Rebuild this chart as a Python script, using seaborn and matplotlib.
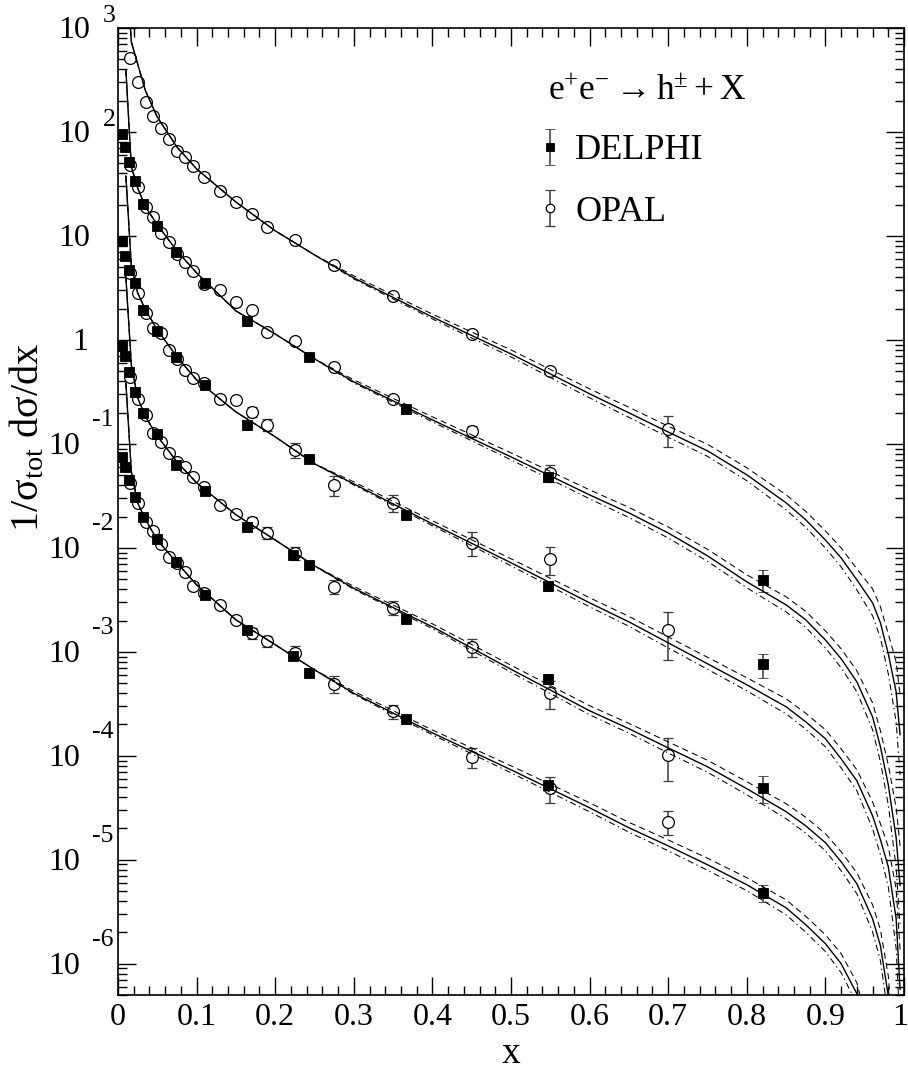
import numpy as np
import matplotlib
matplotlib.use("Agg")
import matplotlib.pyplot as plt
import matplotlib.ticker as mticker
import matplotlib.transforms as mtransforms
import seaborn as sns

# ---------------- theory curves ----------------
X_THEORY = [0.010, 0.017, 0.025, 0.035, 0.05, 0.075, 0.10, 0.15, 0.20, 0.25, 0.30, 0.40,
            0.50, 0.60, 0.65, 0.70, 0.75, 0.80, 0.85, 0.875, 0.90, 0.92, 0.94, 0.96, 0.97,
            0.98, 0.99, 0.995]

S1_SOLID = [4510, 733, 451, 248, 139, 71.7, 44.1, 21.2, 11.2, 6.57, 3.95, 1.66, 0.733,
            0.303, 0.199, 0.130, 0.0857, 0.0504, 0.0271, 0.0186, 0.0119, 0.00801, 0.00492,
            0.00296, 0.00190, 0.000957, 0.000412, 0.000159]
S1_DASH = [4510, 733, 451, 248, 139, 71.7, 44.1, 21.2, 11.2, 6.57, 4.13, 1.77, 0.801,
           0.338, 0.225, 0.148, 0.0990, 0.0589, 0.0324, 0.02245, 0.01453, 0.0100, 0.00628,
           0.00403, 0.00271, 0.00149, 0.000801, 0.000385]
S1_DDOT = [4510, 733, 451, 248, 139, 71.7, 44.1, 21.2, 11.2, 6.57, 3.86, 1.59, 0.686,
           0.277, 0.180, 0.116, 0.0758, 0.0442, 0.0232, 0.01575, 0.00997, 0.00656, 0.00394,
           0.00222, 0.00136, 0.000614, 0.000212, 0.0000655]

S2_SOLID = [394, 46.1, 28.9, 19.0, 12.8, 7.18, 4.41, 1.90, 1.14, 0.657, 0.395, 0.170, 0.0750,
            0.0323, 0.0217, 0.0139, 0.00838, 0.00471, 0.00283, 0.00203, 0.00130, 0.000857,
            0.000515, 0.000237, 0.000122, 5.26e-5, 1.63e-5, 5.62e-6]
S2_DASH = [394, 46.1, 28.9, 19.0, 12.8, 7.18, 4.41, 1.90, 1.14, 0.657, 0.413, 0.182, 0.0820,
           0.0361, 0.0245, 0.01587, 0.00968, 0.00550, 0.00338, 0.00245, 0.00159, 0.00107,
           0.000657, 0.000323, 0.000174, 8.19e-5, 3.17e-5, 1.36e-5]
S2_DDOT = [394, 46.1, 28.9, 19.0, 12.8, 7.18, 4.41, 1.90, 1.14, 0.657, 0.386, 0.163, 0.0702,
           0.0296, 0.0196, 0.01244, 0.00742, 0.00413, 0.00242, 0.00172, 0.00109, 0.000702,
           0.000413, 0.000178, 8.75e-5, 3.38e-5, 8.39e-6, 2.32e-6]

S3_SOLID = [37.8, 5.15, 2.83, 1.94, 1.25, 0.687, 0.412, 0.203, 0.117, 0.0643, 0.0412, 0.0170,
            0.00718, 0.00296, 0.00194, 0.00122, 0.000767, 0.000482, 0.000296, 0.000212,
            0.000146, 9.35e-5, 5.75e-5, 2.65e-5, 1.56e-5, 8.57e-6, 2.71e-6, 5.62e-7]
S3_DASH = [37.8, 5.15, 2.83, 1.94, 1.25, 0.687, 0.412, 0.203, 0.117, 0.0643, 0.0431, 0.0182,
           0.00785, 0.00331, 0.00219, 0.00139, 0.000886, 0.000563, 0.000353, 0.000256,
           0.000178, 0.0001167, 7.34e-5, 3.61e-5, 2.22e-5, 1.334e-5, 5.27e-6, 1.36e-6]
S3_DDOT = [37.8, 5.15, 2.83, 1.94, 1.25, 0.687, 0.412, 0.203, 0.117, 0.0643, 0.0403, 0.0163,
           0.00672, 0.00271, 0.00176, 0.00109, 0.000679, 0.000422, 0.000253, 0.000180,
           0.000122, 7.66e-5, 4.61e-5, 1.99e-5, 1.12e-5, 5.50e-6, 1.40e-6, 2.32e-7]

S4_SOLID = [4.04, 0.575, 0.277, 0.182, 0.119, 0.0671, 0.0422, 0.0208, 0.0119, 0.00671,
            0.00408, 0.00174, 0.000679, 0.000271, 0.000182, 0.000119, 7.84e-5, 4.82e-5,
            2.90e-5, 2.12e-5, 1.46e-5, 9.57e-6, 5.88e-6, 2.71e-6, 1.49e-6, 4.92e-7, 4.92e-8,
            5.4e-9]
S4_DASH = [4.04, 0.575, 0.277, 0.182, 0.119, 0.0671, 0.0422, 0.0208, 0.0119, 0.00671,
           0.00426, 0.00186, 0.000742, 0.000303, 0.000205, 0.000136, 9.06e-5, 5.63e-5,
           3.46e-5, 2.56e-5, 1.78e-5, 1.194e-5, 7.50e-6, 3.69e-6, 2.12e-6, 7.66e-7, 9.56e-8,
           1.3e-8]
S4_DDOT = [4.04, 0.575, 0.277, 0.182, 0.119, 0.0671, 0.0422, 0.0208, 0.0119, 0.00671,
           0.00399, 0.00167, 0.000636, 0.000248, 0.000165, 0.0001065, 6.94e-5, 4.22e-5,
           2.48e-5, 1.80e-5, 1.22e-5, 7.84e-6, 4.71e-6, 2.03e-6, 1.07e-6, 3.16e-7, 2.53e-8,
           2.2e-9]

S5_SOLID = [0.386, 0.0538, 0.0271, 0.0186, 0.0119, 0.00718, 0.00441, 0.00203, 0.00117,
            0.000671, 0.000399, 0.000166, 7.33e-5, 3.16e-5, 2.03e-5, 1.36e-5, 8.95e-6, 5.75e-6,
            3.45e-6, 2.37e-6, 1.56e-6, 1.0e-6, 5.15e-7, 1.19e-7, 3.16e-8, 5.4e-9, 5.9e-10,
            6.4e-11]
S5_DASH = [0.386, 0.0538, 0.0271, 0.0186, 0.0119, 0.00718, 0.00441, 0.00203, 0.00117,
           0.000671, 0.000417, 0.000177, 8.01e-5, 3.53e-5, 2.29e-5, 1.55e-5, 1.034e-5, 6.72e-6,
           4.12e-6, 2.86e-6, 1.90e-6, 1.25e-6, 6.57e-7, 1.62e-7, 4.5e-8, 8.4e-9, 1.15e-9,
           1.55e-10]
S5_DDOT = [0.386, 0.0538, 0.0271, 0.0186, 0.0119, 0.00718, 0.00441, 0.00203, 0.00117,
           0.000671, 0.000390, 0.000159, 6.86e-5, 2.89e-5, 1.84e-5, 1.22e-5, 7.92e-6, 5.04e-6,
           2.95e-6, 2.01e-6, 1.31e-6, 8.19e-7, 4.13e-7, 8.9e-8, 2.27e-8, 3.5e-9, 3.0e-10,
           2.6e-11]

# ---------------- OPAL data (open circles) ----------------
OPAL_X = [0.015, 0.025, 0.035, 0.045, 0.055, 0.065, 0.075, 0.085, 0.095, 0.11, 0.13, 0.15,
          0.17, 0.19, 0.225, 0.275, 0.35, 0.45, 0.55, 0.70]
OPAL_X2 = [0.015, 0.025, 0.035, 0.045, 0.055, 0.065, 0.075, 0.085, 0.095, 0.11, 0.13, 0.15,
           0.17, 0.19, 0.225, 0.275, 0.35, 0.45, 0.55]

OPAL1_Y = [515, 303, 194, 143, 109, 85.7, 65.7, 57.5, 47.1, 36.9, 27.1, 21.2, 16.3, 12.2, 9.16,
           5.26, 2.65, 1.14, 0.503, 0.139]
OPAL1_ERR = [0, 0, 0, 0, 0, 0, 0, 0, 0, 0, 0, 0, 0, 0, 0, 0, 0, 0, 0, 0.045]

OPAL2_Y = [48.2, 29.6, 19.0, 15.2, 10.7, 8.75, 6.71, 5.62, 4.61, 3.45, 3.03, 2.32, 1.94, 1.19,
           0.977, 0.550, 0.271, 0.133, 0.0526]
OPAL2_ERR = [0, 0, 0, 0, 0, 0, 0, 0, 0, 0, 0, 0, 0, 0, 0, 0, 0, 0.016, 0.010]

OPAL3_Y = [4.41, 2.83, 1.82, 1.30, 1.17, 0.801, 0.657, 0.515, 0.431, 0.386, 0.271, 0.265, 0.203,
           0.152, 0.0875, 0.0404, 0.0271, 0.0112, 0.00784, 0.00163]
OPAL3_ERR = [0, 0, 0, 0, 0, 0, 0, 0, 0, 0, 0.018, 0.02, 0.022, 0.02, 0.015, 0.0087, 0.0051,
             0.0029, 0.0023, 0.0008]

OPAL4_Y = [0.441, 0.271, 0.190, 0.128, 0.1045, 0.0819, 0.0671, 0.0601, 0.0482, 0.0386, 0.0259,
           0.0212, 0.0178, 0.0139, 0.00895, 0.00422, 0.00265, 0.00112, 0.000404, 0.000102]
OPAL4_ERR = [0, 0, 0, 0, 0, 0, 0, 0, 0, 0, 0, 0, 0.002, 0.0018, 0.0013, 0.00065, 0.0004,
             0.00022, 0.00012, 0.000045]

OPAL5_Y = [0.0422, 0.0269, 0.0179, 0.0144, 0.0109, 0.00825, 0.00718, 0.00584, 0.00431, 0.00369,
           0.00283, 0.00203, 0.00151, 0.00126, 0.000977, 0.000492, 0.000267, 9.7e-5, 4.9e-5,
           2.33e-5]
OPAL5_ERR = [0, 0, 0, 0, 0, 0, 0, 0, 0, 0, 0, 0, 0.00017, 0.00016, 0.00015, 0.00009, 0.00004,
             2.1e-5, 1.35e-5, 0.6e-5]

# ---------------- DELPHI data (filled squares) ----------------
DELPHI_XA = [0.005, 0.009, 0.014, 0.022, 0.032, 0.050, 0.074, 0.111, 0.164, 0.243, 0.366,
             0.547, 0.82]
DELPHI_XB = [0.005, 0.009, 0.014, 0.022, 0.032, 0.050, 0.074, 0.111, 0.164, 0.223, 0.243,
             0.366, 0.547, 0.82]

DELPHI2_Y = [95.6, 71.8, 51.5, 33.8, 20.3, 12.5, 7.02, 3.53, 1.52, 0.687, 0.217, 0.0482, 0.00492]
DELPHI2_ERR = [0, 0, 0, 0, 0, 0, 0, 0, 0, 0, 0, 0.005, 0.0012]
DELPHI3_Y = [8.95, 6.42, 4.71, 3.53, 1.94, 1.22, 0.687, 0.369, 0.152, 0.0718, 0.0208, 0.00431,
             0.000757]
DELPHI3_ERR = [0, 0, 0, 0, 0, 0, 0, 0, 0, 0, 0, 0.0005, 0.0002]
DELPHI4_Y = [0.875, 0.702, 0.492, 0.316, 0.199, 0.125, 0.0628, 0.0353, 0.0159, 0.00857, 0.00687,
             0.00208, 0.000549, 4.92e-5]
DELPHI4_ERR = [0, 0, 0, 0, 0, 0, 0, 0, 0, 0, 0, 0, 0.00006, 1.4e-5]
DELPHI5_Y = [0.0755, 0.0597, 0.0451, 0.0311, 0.0200, 0.0122, 0.00728, 0.00353, 0.00163, 0.000921,
             0.000624, 0.000225, 5.18e-5, 4.84e-6]
DELPHI5_ERR = [0, 0, 0, 0, 0, 0, 0, 0, 0, 0, 0, 0, 6e-6, 0.9e-6]

# ---------------- tick labels ----------------
X_TICKS = [0.0, 0.1, 0.2, 0.3, 0.4, 0.5, 0.6, 0.7, 0.8, 0.9, 1.0]
X_TICK_LABELS = ["0", "0.1", "0.2", "0.3", "0.4", "0.5", "0.6", "0.7", "0.8", "0.9", "1"]
Y_DECADES = [3, 2, 1, 0, -1, -2, -3, -4, -5, -6]
Y_BASE = ["10", "10", "10", "1", "10", "10", "10", "10", "10", "10"]
Y_EXPO = ["3", "2", "", "", "-1", "-2", "-3", "-4", "-5", "-6"]

# ---------------- style ----------------
sns.set_theme(style="ticks")
plt.rcParams.update({
    "font.family": ["Liberation Serif", "DejaVu Serif"],
    "mathtext.fontset": "custom",
    "mathtext.rm": "Liberation Serif",
    "mathtext.it": "Liberation Serif",
    "mathtext.bf": "Liberation Serif:bold",
    "mathtext.default": "regular",
    "lines.scale_dashes": False,
    "axes.linewidth": 1.2,
    "axes.edgecolor": "black",
    "xtick.color": "black",
    "ytick.color": "black",
    "text.color": "black",
    "axes.labelcolor": "black",
})

W, H = 908, 1073
fig = plt.figure(figsize=(W / 100, H / 100), dpi=100)
ax = fig.add_axes([118 / W, 1 - 995 / H, 786 / W, 967 / H])
ax.set_facecolor("white")
ax.set_yscale("log")
ax.set_xlim(0, 1)
ax.set_ylim(5.0e-7, 1.0e3)

# theory curves
curve_sets = [(S1_SOLID, S1_DASH, S1_DDOT), (S2_SOLID, S2_DASH, S2_DDOT),
              (S3_SOLID, S3_DASH, S3_DDOT), (S4_SOLID, S4_DASH, S4_DDOT),
              (S5_SOLID, S5_DASH, S5_DDOT)]
for solid, dash, ddot in curve_sets:
    sns.lineplot(x=X_THEORY, y=dash, ax=ax, color="black", linewidth=0.75,
                 linestyle=(0, (4.5, 3.0)), estimator=None, sort=False, legend=False, zorder=3)
    sns.lineplot(x=X_THEORY, y=ddot, ax=ax, color="black", linewidth=0.75,
                 linestyle=(0, (4.5, 2.5, 1.0, 2.5)), estimator=None, sort=False, legend=False,
                 zorder=3)
    sns.lineplot(x=X_THEORY, y=solid, ax=ax, color="black", linewidth=1.0, linestyle="-",
                 estimator=None, sort=False, legend=False, zorder=3.1)

# data points
err_kw = dict(ecolor="#3a3a3a", elinewidth=1.1, capsize=3.3, capthick=1.1, linestyle="none",
              zorder=2)
opal_sets = [(OPAL_X, OPAL1_Y, OPAL1_ERR), (OPAL_X2, OPAL2_Y, OPAL2_ERR),
             (OPAL_X, OPAL3_Y, OPAL3_ERR), (OPAL_X, OPAL4_Y, OPAL4_ERR),
             (OPAL_X, OPAL5_Y, OPAL5_ERR)]
delphi_sets = [(DELPHI_XA, DELPHI2_Y, DELPHI2_ERR), (DELPHI_XA, DELPHI3_Y, DELPHI3_ERR),
               (DELPHI_XB, DELPHI4_Y, DELPHI4_ERR), (DELPHI_XB, DELPHI5_Y, DELPHI5_ERR)]

c_opal = None
for xs, ys, es in opal_sets:
    c_opal = ax.errorbar(xs, ys, yerr=es, fmt="o", ms=8.5, mfc="white", mec="black", mew=0.9,
                         **err_kw)
c_del = None
for xs, ys, es in delphi_sets:
    c_del = ax.errorbar(xs, ys, yerr=es, fmt="s", ms=7.5, mfc="black", mec="black", mew=0.6,
                        **err_kw)

# axes ticks
ax.set_xticks(X_TICKS)
ax.set_xticklabels(X_TICK_LABELS)
ax.xaxis.set_minor_locator(mticker.MultipleLocator(0.02))
ax.yaxis.set_major_locator(mticker.LogLocator(base=10, numticks=20))
ax.yaxis.set_minor_locator(mticker.LogLocator(base=10, subs=np.arange(2, 10), numticks=200))
ax.yaxis.set_minor_formatter(mticker.NullFormatter())
ax.tick_params(axis="both", which="major", direction="in", length=13, width=1.0,
               top=True, right=True, colors="black")
ax.tick_params(axis="both", which="minor", direction="in", length=6.5, width=1.0,
               top=True, right=True, colors="black")
ax.tick_params(axis="x", which="major", labelsize=23, pad=6)
ax.tick_params(axis="y", which="both", labelleft=False, labelright=False)
for sp in ax.spines.values():
    sp.set_linewidth(1.2)
    sp.set_color("black")

# keep the "1" at the right end inside the picture
last_lab = ax.get_xticklabels()[-1]
last_lab.set_transform(last_lab.get_transform() +
                       mtransforms.ScaledTranslation(-4 / 100, 0, fig.dpi_scale_trans))

# y decade labels (ROOT style "10" with raised exponent)
ytr = ax.get_yaxis_transform()
for n, base, expo in zip(Y_DECADES, Y_BASE, Y_EXPO):
    if n < 0:
        bx, ex, ey = -0.0483, -0.0330, 17.3
    elif n == 0:
        bx, ex, ey = -0.0382, 0.0, 0.0
    else:
        bx, ex, ey = -0.0356, -0.0191, 8.8
    ax.annotate(base, xy=(bx, 10.0 ** n), xycoords=ytr, xytext=(0, -2.0),
                textcoords="offset points", ha="right", va="center", fontsize=23,
                annotation_clip=False)
    if expo:
        ax.annotate(expo, xy=(ex, 10.0 ** n), xycoords=ytr, xytext=(0, ey),
                    textcoords="offset points", ha="left", va="center", fontsize=18.5,
                    annotation_clip=False)

# axis titles
ax.set_ylabel(r"$1/\sigma_{tot}\ d\sigma/dx$", fontsize=29, va="center")
ax.yaxis.set_label_coords(-0.1145, 0.577)
ax.set_xlabel("x", fontsize=27, va="baseline")
ax.xaxis.set_label_coords(0.5, -0.0703)

# process label and legend
ax.text(0.547, 0.9255, r"$e^{+}e^{-}\rightarrow h^{\pm}+X$", transform=ax.transAxes,
        fontsize=25.5, ha="left", va="baseline")
ax.legend([c_del, c_opal], ["DELPHI", "OPAL"], loc="upper left",
          bbox_to_anchor=(0.5359, 0.8904), bbox_transform=ax.transAxes, frameon=False,
          fontsize=26, handlelength=0.6, handletextpad=0.4, labelspacing=0.78, borderpad=0,
          borderaxespad=0, markerscale=0.72, numpoints=1)

fig.savefig("out.png", dpi=100, facecolor="white")
